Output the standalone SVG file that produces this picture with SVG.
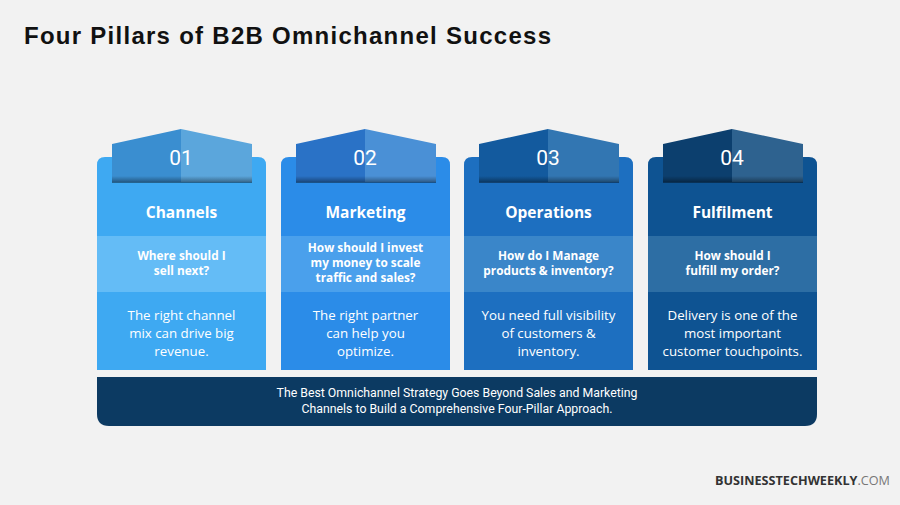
<svg xmlns="http://www.w3.org/2000/svg" width="900" height="505" viewBox="0 0 900 505">
<defs>
<linearGradient id="shadow" x1="0" y1="0" x2="0" y2="1">
<stop offset="0" stop-color="#000" stop-opacity="0"/>
<stop offset="0.6" stop-color="#000" stop-opacity="0.25"/>
<stop offset="1" stop-color="#000" stop-opacity="0.45"/>
</linearGradient>
<style>
.num{font-family:Roboto,"Open Sans",sans-serif;font-size:21px;fill:#fff;text-anchor:middle}
.ttl{font-family:"Open Sans","Noto Sans",sans-serif;font-weight:bold;font-size:15.5px;fill:#fff;text-anchor:middle}
.q{font-family:"Open Sans","Noto Sans",sans-serif;font-weight:bold;font-size:11.8px;fill:#fff;text-anchor:middle}
.d{font-family:"Open Sans","Noto Sans",sans-serif;font-size:13.3px;fill:#fff;text-anchor:middle}
.foot{font-family:Roboto,"Liberation Sans",sans-serif;font-size:12.3px;fill:#fff;text-anchor:middle}
</style>
</defs>
<rect width="900" height="505" fill="#f2f2f2"/>
<text x="24" y="44" font-family="Liberation Sans,Arial,sans-serif" font-weight="bold" font-size="24" fill="#111" textLength="527" lengthAdjust="spacing">Four Pillars of B2B Omnichannel Success</text>

<g id="pillar1">
<path d="M97,370 V165 Q97,157 105,157 H258 Q266,157 266,165 V370 Z" fill="#3ea9f2"/>
<rect x="97" y="236" width="169" height="56" fill="#64bcf6"/>
<polygon points="112,144 181,129 181,182 112,182" fill="#3a8ed0"/>
<polygon points="181,129 252,144 252,182 181,182" fill="#5ba6dc"/>
<rect x="112" y="176" width="140" height="7" fill="url(#shadow)"/>
<text class="num" x="181" y="165">01</text>
<text class="ttl" x="181.5" y="218">Channels</text>
<text class="q" x="181.5" y="260">Where should I</text>
<text class="q" x="181.5" y="275">sell next?</text>
<text class="d" x="181.5" y="320">The right channel</text>
<text class="d" x="181.5" y="338">mix can drive big</text>
<text class="d" x="181.5" y="356">revenue.</text>
</g>

<g id="pillar2">
<path d="M281,370 V165 Q281,157 289,157 H442 Q450,157 450,165 V370 Z" fill="#2b8ce8"/>
<rect x="281" y="236" width="169" height="56" fill="#4aa0ec"/>
<polygon points="296,144 365,129 365,182 296,182" fill="#2a72c6"/>
<polygon points="365,129 436,144 436,182 365,182" fill="#4a90d6"/>
<rect x="296" y="176" width="140" height="7" fill="url(#shadow)"/>
<text class="num" x="365" y="165">02</text>
<text class="ttl" x="365.5" y="218">Marketing</text>
<text class="q" x="365.5" y="252">How should I invest</text>
<text class="q" x="365.5" y="267">my money to scale</text>
<text class="q" x="365.5" y="282">traffic and sales?</text>
<text class="d" x="365.5" y="320">The right partner</text>
<text class="d" x="365.5" y="338">can help you</text>
<text class="d" x="365.5" y="356">optimize.</text>
</g>

<g id="pillar3">
<path d="M464,370 V165 Q464,157 472,157 H625 Q633,157 633,165 V370 Z" fill="#1d6fc0"/>
<rect x="464" y="236" width="169" height="56" fill="#3a86c9"/>
<polygon points="479,144 548,129 548,182 479,182" fill="#135a9e"/>
<polygon points="548,129 619,144 619,182 548,182" fill="#3276b2"/>
<rect x="479" y="176" width="140" height="7" fill="url(#shadow)"/>
<text class="num" x="548" y="165">03</text>
<text class="ttl" x="548.5" y="218">Operations</text>
<text class="q" x="548.5" y="260">How do I Manage</text>
<text class="q" x="548.5" y="275">products &amp; inventory?</text>
<text class="d" x="548.5" y="320">You need full visibility</text>
<text class="d" x="548.5" y="338">of customers &amp;</text>
<text class="d" x="548.5" y="356">inventory.</text>
</g>

<g id="pillar4">
<path d="M648,370 V165 Q648,157 656,157 H809 Q817,157 817,165 V370 Z" fill="#0e5392"/>
<rect x="648" y="236" width="169" height="56" fill="#2d6ea4"/>
<polygon points="663,144 732,129 732,182 663,182" fill="#0c3f6e"/>
<polygon points="732,129 803,144 803,182 732,182" fill="#2e628f"/>
<rect x="663" y="176" width="140" height="7" fill="url(#shadow)"/>
<text class="num" x="732" y="165">04</text>
<text class="ttl" x="732.5" y="218">Fulfilment</text>
<text class="q" x="732.5" y="260">How should I</text>
<text class="q" x="732.5" y="275">fulfill my order?</text>
<text class="d" x="732.5" y="320">Delivery is one of the</text>
<text class="d" x="732.5" y="338">most important</text>
<text class="d" x="732.5" y="356">customer touchpoints.</text>
</g>

<g id="footer">
<path d="M97,377 H817 V414 Q817,426 805,426 H109 Q97,426 97,414 Z" fill="#0c3a62"/>
<text class="foot" x="457" y="397">The Best Omnichannel Strategy Goes Beyond Sales and Marketing</text>
<text class="foot" x="457" y="413">Channels to Build a Comprehensive Four-Pillar Approach.</text>
</g>

<g id="connectors"></g>

<text x="715" y="485" font-family="Open Sans,Liberation Sans,sans-serif" font-size="12.6" fill="#333" textLength="175" lengthAdjust="spacingAndGlyphs"><tspan font-weight="bold">BUSINESSTECHWEEKLY</tspan><tspan fill="#777">.COM</tspan></text>
</svg>
